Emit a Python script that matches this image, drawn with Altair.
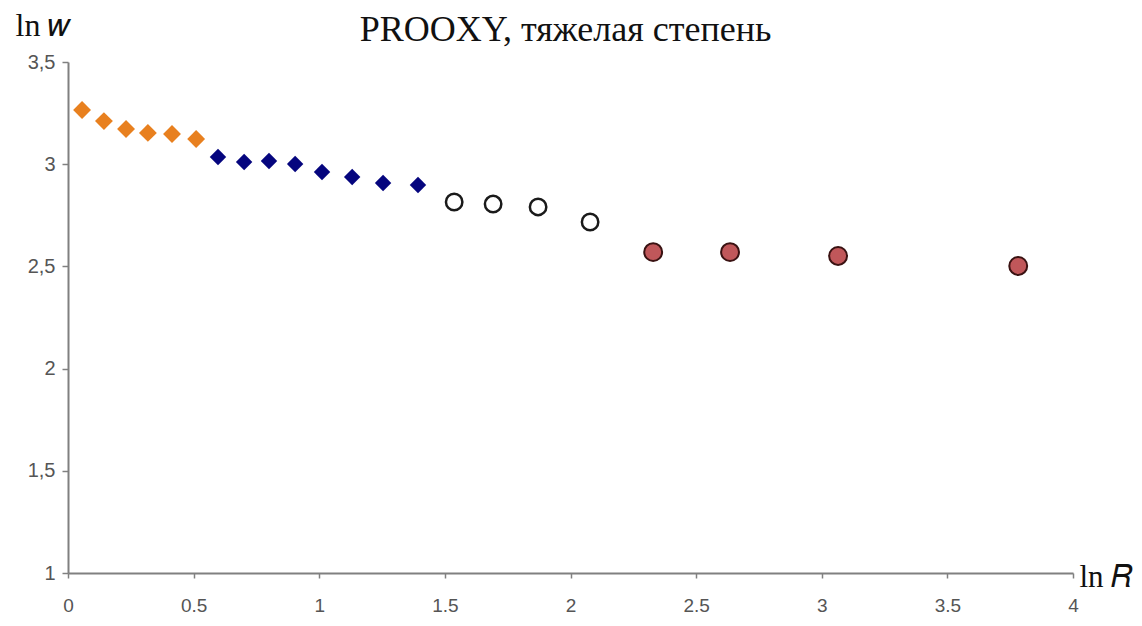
import altair as alt
import pandas as pd

# Series 1 (orange diamonds)
x_orange = [0.056, 0.143, 0.231, 0.318, 0.414, 0.510]
y_orange = [3.265, 3.211, 3.172, 3.153, 3.148, 3.123]
# Series 2 (navy diamonds)
x_blue = [0.597, 0.701, 0.800, 0.904, 1.011, 1.131, 1.254, 1.393]
y_blue = [3.035, 3.011, 3.016, 3.001, 2.962, 2.937, 2.908, 2.898]
# Series 3 (open circles)
x_open = [1.537, 1.692, 1.871, 2.078]
y_open = [2.815, 2.805, 2.791, 2.717]
# Series 4 (red circles)
x_red = [2.329, 2.635, 3.065, 3.782]
y_red = [2.570, 2.570, 2.551, 2.502]

x_ticks = [0, 0.5, 1, 1.5, 2, 2.5, 3, 3.5, 4]
y_ticks = [1, 1.5, 2, 2.5, 3, 3.5]

title_text = "PROOXY, тяжелая степень"
x_title = "ln 𝑅"
y_title = "ln 𝑤"

W, H = 1005, 511

x_enc = alt.X(
    "x:Q",
    scale=alt.Scale(domain=[0, 4], nice=False, zero=False),
    axis=alt.Axis(
        values=x_ticks, format="~g", title=x_title, titleAngle=0, titleAlign="left",
        titleBaseline="alphabetic", titleX=W + 6, titleY=13,
        titleFont="Liberation Serif", titleFontSize=31, titleFontWeight="normal",
        titleColor="#111111",
        labelFont="Liberation Sans", labelFontSize=19, labelColor="#555555",
        labelPadding=18, tickSize=5, tickColor="#808080", tickWidth=1.5,
        domainColor="#808080", domainWidth=2, grid=False, labelFlush=False,
    ),
)
y_enc = alt.Y(
    "y:Q",
    scale=alt.Scale(domain=[1, 3.5], nice=False, zero=False),
    axis=alt.Axis(
        values=y_ticks, format="~g", title=y_title, titleAngle=0, titleAlign="left",
        titleBaseline="alphabetic", titleX=-53, titleY=-27,
        titleFont="Liberation Serif", titleFontSize=32, titleFontWeight="normal",
        titleColor="#111111",
        labelFont="Liberation Sans", labelFontSize=20, labelColor="#555555",
        labelPadding=7, tickSize=6, tickColor="#808080", tickWidth=1.5,
        domainColor="#808080", domainWidth=2, grid=False,
        labelExpr="replace(datum.label, '.', ',')",
    ),
)


def df(xs, ys):
    return pd.DataFrame({"x": xs, "y": ys})


orange = alt.Chart(df(x_orange, y_orange)).mark_point(
    shape="diamond", filled=True, size=320, color="#E8801F", opacity=1
).encode(x=x_enc, y=y_enc)

blue = alt.Chart(df(x_blue, y_blue)).mark_point(
    shape="diamond", filled=True, size=270, color="#05057E", opacity=1
).encode(x=x_enc, y=y_enc)

open_c = alt.Chart(df(x_open, y_open)).mark_point(
    shape="circle", filled=False, size=270, stroke="#1a1a1a", strokeWidth=2.5,
    fill="white", fillOpacity=1, opacity=1
).encode(x=x_enc, y=y_enc)

red = alt.Chart(df(x_red, y_red)).mark_point(
    shape="circle", filled=True, size=320, fill="#C0575A", stroke="#3a1212",
    strokeWidth=2, opacity=1
).encode(x=x_enc, y=y_enc)

chart = alt.layer(orange, blue, open_c, red).properties(
    width=W, height=H,
    padding={"left": 60, "top": 54, "right": 61, "bottom": 45},
    autosize=alt.AutoSizeParams(type="none"),
    title=alt.TitleParams(
        title_text, font="Liberation Serif", fontSize=36, fontWeight="normal",
        color="#111111", anchor="middle", offset=-40, dx=-5,
    ),
).configure_view(stroke=None)

chart.save("out.html", embed_options={"renderer": "svg", "actions": False})
